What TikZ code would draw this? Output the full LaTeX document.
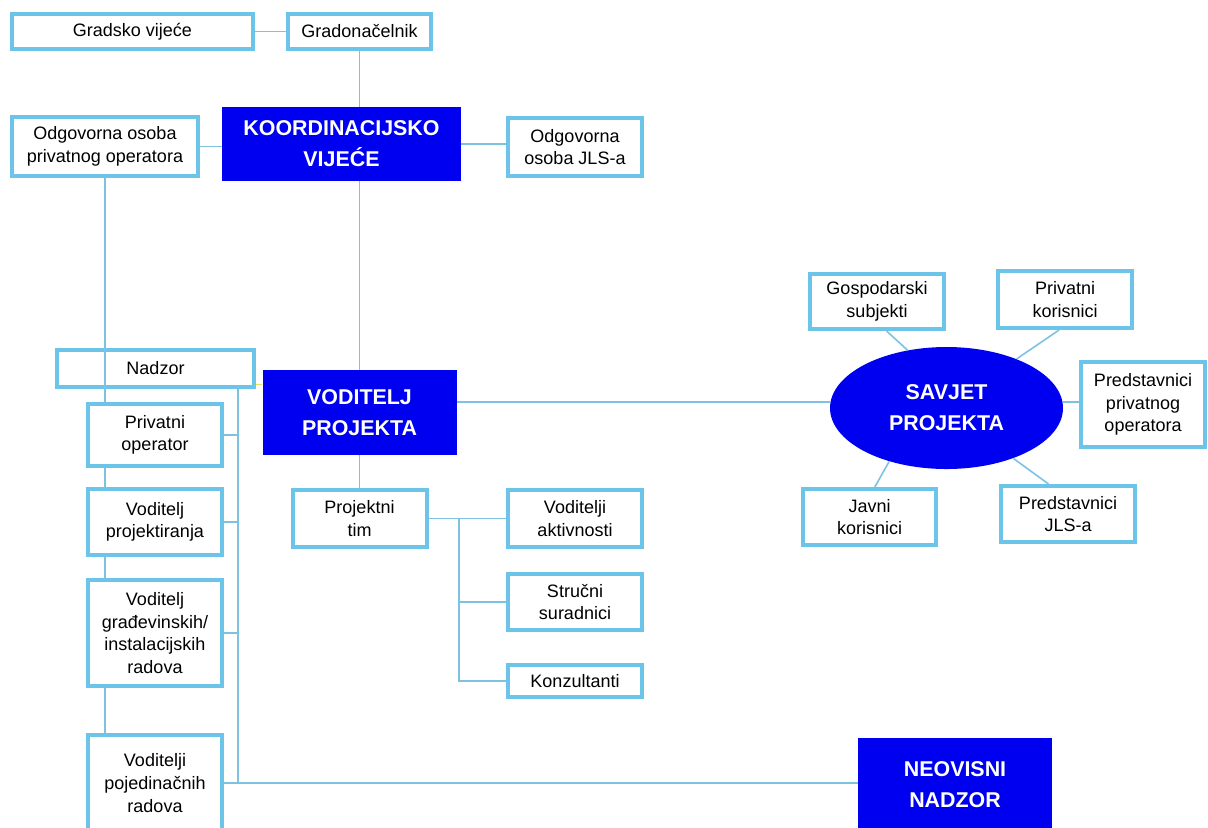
\documentclass[tikz,border=0pt]{standalone}
\usepackage{fontspec}
\setmainfont{Liberation Sans}
\usetikzlibrary{calc,positioning,shapes.geometric}
\definecolor{OrgBlue}{RGB}{0,0,240}
\definecolor{OrgFrame}{RGB}{108,196,232}
\definecolor{OrgLine}{RGB}{125,195,225}
\definecolor{OrgLink}{RGB}{235,225,90}

\begin{document}
\begin{tikzpicture}[x=0.5pt,y=-0.5pt,
    boxsize/.style 2 args={minimum width=#1*0.5pt,minimum height=#2*0.5pt},
    box/.style={draw=OrgFrame,line width=2pt,fill=white,align=center,inner sep=0pt,
      font=\fontsize{9}{11.3}\selectfont},
    head/.style={fill=OrgBlue,text=white,align=center,inner sep=0pt,
      font=\fontsize{10.7}{15.5}\selectfont\bfseries},
    link/.style={draw=OrgLine,line width=0.8pt}]
        \useasboundingbox (0,0) rectangle (1208,827);
        \clip (0,0) rectangle (1208,827);

        % top of the organisation
        \node[box,boxsize={241}{35}] (gradvij) at (132.5,31.5) {Gradsko vije\'ce};
        \node[box,boxsize={143}{35}] (gradonac) at (359.5,31.5) {Gradona\v{c}elnik};
        \node[head,boxsize={239}{74}] (koord) at (341.5,144) {KOORDINACIJSKO\\VIJE\'CE};
        \node[box,boxsize={186}{59}] (odgpriv) at (105,146.5) {Odgovorna osoba\\privatnog operatora};
        \node[box,boxsize={134}{58}] (odgjls) at (575,147) {Odgovorna\\osoba JLS-a};

        % project management
        \node[box,boxsize={197}{37}] (nadzor) at (155.5,368.5) {Nadzor};
        \node[head,boxsize={194}{85}] (vodpr) at (359.5,412.5) {VODITELJ\\PROJEKTA};
        \node[box,boxsize={134}{62}] (privop) at (155,435) {Privatni\\operator};
        \node[box,boxsize={134}{66}] (vodproj) at (155,522) {Voditelj\\projektiranja};
        \node[box,boxsize={134}{106}] (vodgradj) at (155,633) {Voditelj\\gra\dj evinskih/\\instalacijskih\\radova};
        \node[box,boxsize={134}{96}] (vodpoj) at (155,783) {Voditelji\\pojedina\v{c}nih\\radova};
        \node[head,boxsize={194}{94}] (neovisni) at (955,785) {NEOVISNI\\NADZOR};

        % project team
        \node[box,boxsize={134}{57}] (projtim) at (359.5,518.5) {Projektni\\tim};
        \node[box,boxsize={134}{57}] (vodakt) at (575,518.5) {Voditelji\\aktivnosti};
        \node[box,boxsize={134}{56}] (strucni) at (575,602) {Stru\v{c}ni\\suradnici};
        \node[box,boxsize={134}{32}] (konz) at (575,681) {Konzultanti};

        % project council
        \node[head,ellipse,boxsize={233}{122}] (savjet) at (946.5,408) {SAVJET\\PROJEKTA};
        \node[box,boxsize={134}{55}] (gos) at (877,301.5) {Gospodarski\\subjekti};
        \node[box,boxsize={134}{57}] (privkor) at (1065,299.5) {Privatni\\korisnici};
        \node[box,boxsize={124}{85}] (predpriv) at (1143,404.5) {Predstavnici\\privatnog\\operatora};
        \node[box,boxsize={133}{56}] (javni) at (869.5,517) {Javni\\korisnici};
        \node[box,boxsize={134}{56}] (predjls) at (1068,514) {Predstavnici\\JLS-a};

        \coordinate (bus) at (238,0);
        \coordinate (tb) at (459,0);

        % connectors
        \draw[link] (gradvij.east) -- (gradonac.west);
        \draw[link] (gradonac.south) -- (gradonac.south |- koord.north);
        \draw[link] (odgpriv.east) -- (odgpriv.east -| koord.west);
        \draw[link] (koord.east) -- (koord.east -| odgjls.west);
        \draw[link] (vodpr.north) -- (vodpr.north |- koord.south);
        \draw[link] (vodpr.south) -- (projtim.north);
        \draw[OrgLink,line width=0.6pt] (nadzor.-9) -- (nadzor.-9 -| vodpr.west);

        \draw[link] (odgpriv.south) -- (odgpriv.south |- privop.north);
        \foreach \a/\b in {privop/vodproj,vodproj/vodgradj,vodgradj/vodpoj} {
          \draw[link] (odgpriv.south |- \a.south) -- (odgpriv.south |- \b.north);
        }
        \draw[link] (bus |- nadzor.south) -- (bus |- vodpoj.east);
        \foreach \b in {privop,vodproj,vodgradj} {
          \draw[link] (\b.east) -- (\b.east -| bus);
        }
        \draw[link] (vodpoj.east) -- (vodpoj.east -| neovisni.west);

        \draw[link] (projtim.east) -- (vodakt.west);
        \draw[link] (tb |- projtim.east) -- (tb |- konz.west) -- (konz.west);
        \draw[link] (tb |- strucni.west) -- (strucni.west);

        \draw[link] (vodpr.east |- savjet.177) -- (savjet.177);
        \draw[link] (gos.-72) -- (savjet.124);
        \draw[link] (privkor.-101) -- (savjet.35);
        \draw[link] (savjet.3) -- (savjet.3 -| predpriv.west);
        \draw[link] (javni.80) -- (savjet.223);
        \draw[link] (predjls.123) -- (savjet.-37);
      \end{tikzpicture}
\end{document}
